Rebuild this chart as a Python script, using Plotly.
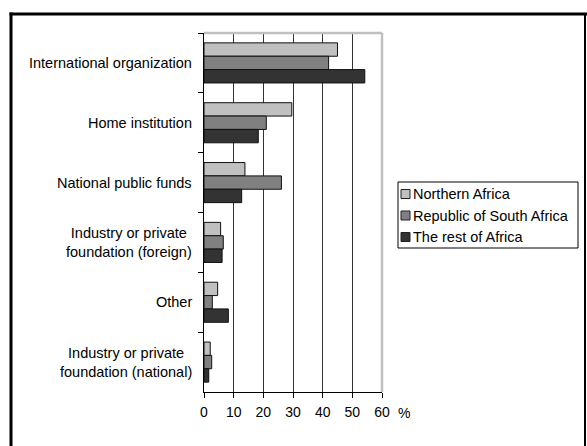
import plotly.graph_objects as go

categories = [
    "International organization",
    "Home institution",
    "National public funds",
    "Industry or private<br>foundation (foreign)",
    "Other",
    "Industry or private<br>foundation (national)",
]
northern_africa = [45.0, 29.6, 13.8, 5.6, 4.6, 2.1]
south_africa = [42.0, 21.0, 26.1, 6.5, 2.8, 2.6]
rest_of_africa = [54.2, 18.3, 12.7, 6.1, 8.2, 1.6]
series_names = ["Northern Africa", "Republic of South Africa", "The rest of Africa"]
x_ticks = [0, 10, 20, 30, 40, 50, 60]

series_colors = ["#c0c0c0", "#808080", "#333333"]
FONT = "Arial, Liberation Sans, sans-serif"
W, H = 587, 446
L, R, T, B = 204, 382, 33, 392  # plot area in px

def px_x(px):
    return (px - L) / (R - L)

def px_y(py):
    return (B - py) / (B - T)

fig = go.Figure()
for name, vals, col in zip(series_names, [northern_africa, south_africa, rest_of_africa], series_colors):
    fig.add_trace(go.Bar(
        y=categories, x=vals, name=name, orientation="h",
        marker=dict(color=col, line=dict(color="#111111", width=1)),
        showlegend=False,
    ))

# category labels (centered multi-line, right anchored)
for c in categories:
    fig.add_annotation(
        x=px_x(194), xref="paper", y=c, yref="y", text=c,
        showarrow=False, xanchor="right", yanchor="middle", align="center",
        font=dict(family=FONT, size=14.5, color="#000000"),
    )

fig.add_annotation(x=px_x(404), xref="paper", y=px_y(413), yref="paper", text="%",
                   showarrow=False, xanchor="center", yanchor="middle",
                   font=dict(family=FONT, size=14, color="#000000"))

shapes = [
    # plot area gray border (top, right)
    dict(type="line", xref="paper", yref="paper", x0=0, x1=1, y0=1, y1=1,
         line=dict(color="#c0c0c0", width=2.5)),
    dict(type="line", xref="paper", yref="paper", x0=1, x1=1, y0=0, y1=1,
         line=dict(color="#c0c0c0", width=2.5)),
    # outer frame
    dict(type="line", xref="paper", yref="paper", x0=px_x(11), x1=px_x(11), y0=px_y(12.5), y1=px_y(470),
         line=dict(color="#000000", width=3)),
    dict(type="line", xref="paper", yref="paper", x0=px_x(9.5), x1=px_x(600), y0=px_y(14), y1=px_y(14),
         line=dict(color="#000000", width=3)),
    dict(type="line", xref="paper", yref="paper", x0=px_x(585), x1=px_x(585), y0=px_y(14), y1=px_y(470),
         line=dict(color="#000000", width=2)),
    # legend box
    dict(type="rect", xref="paper", yref="paper", x0=px_x(398), x1=px_x(578), y0=px_y(182), y1=px_y(248),
         line=dict(color="#000000", width=1), fillcolor="white"),
]

# legend entries
legend_y = [194, 215.5, 237]
for name, col, ly in zip(series_names, series_colors, legend_y):
    shapes.append(dict(type="rect", xref="paper", yref="paper",
                       x0=px_x(401), x1=px_x(410), y0=px_y(ly + 4.5), y1=px_y(ly - 4.5),
                       line=dict(color="#222222", width=1), fillcolor=col))
    fig.add_annotation(x=px_x(411), xref="paper", y=px_y(ly), yref="paper", text=name,
                       showarrow=False, xanchor="left", yanchor="middle",
                       font=dict(family=FONT, size=14.5, color="#000000"))

fig.update_layout(
    width=W, height=H,
    margin=dict(l=L, r=W - R, t=T, b=H - B, pad=0, autoexpand=False),
    paper_bgcolor="white", plot_bgcolor="white",
    barmode="group", bargap=0.33, bargroupgap=0,
    font=dict(family=FONT, size=14, color="#000000"),
    shapes=shapes,
    showlegend=False,
    xaxis=dict(
        range=[0, 60], tickvals=x_ticks, ticktext=[str(v) for v in x_ticks],
        showgrid=True, gridcolor="#333333", gridwidth=1,
        showline=True, linecolor="#000000", linewidth=1,
        ticks="outside", ticklen=5, tickcolor="#000000", ticklabelstandoff=2,
        zeroline=False, tickfont=dict(family=FONT, size=14),
    ),
    yaxis=dict(
        categoryorder="array", categoryarray=categories,
        autorange="reversed", showticklabels=False,
        showline=True, linecolor="#000000", linewidth=1,
        ticks="outside", ticklen=5, tickcolor="#000000", tickson="boundaries",
        showgrid=False, zeroline=False,
    ),
)

fig.write_html("out.html", config={"displayModeBar": False},
               post_script="document.body.style.margin='0';")
